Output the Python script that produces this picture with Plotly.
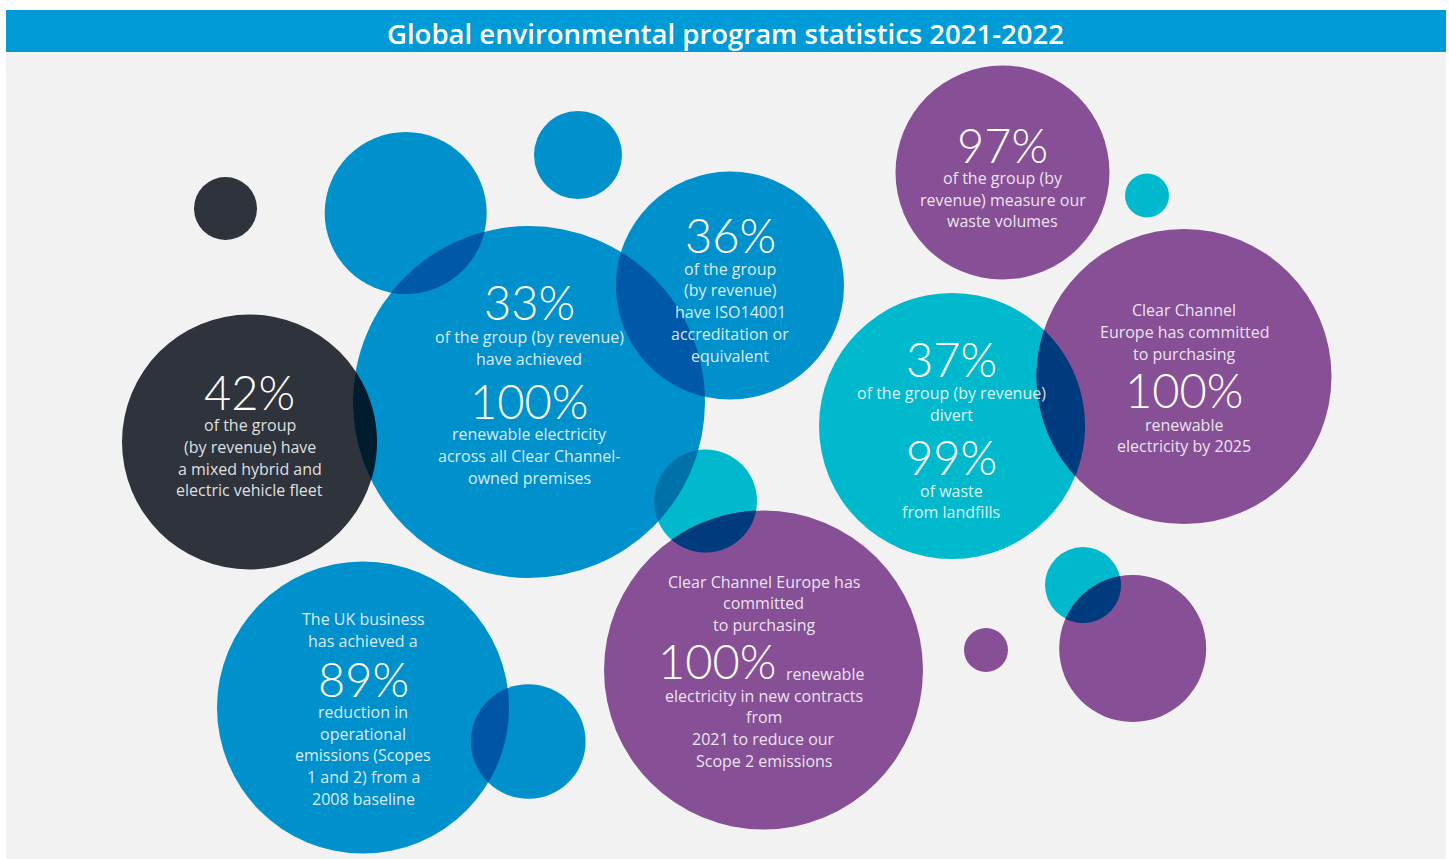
import math
import plotly.graph_objects as go

# ---------------- DATA ----------------
title_text = "Global environmental program statistics 2021-2022"

# text blocks (one entry per line, big=True for headline figures)
block_42 = [("42%", True), ("of the group", False), ("(by revenue) have", False),
            ("a mixed hybrid and", False), ("electric vehicle fleet", False)]
block_33 = [("33%", True), ("of the group (by revenue)", False), ("have achieved", False),
            ("100%", True), ("renewable electricity", False),
            ("across all Clear Channel-", False), ("owned premises", False)]
block_36 = [("36%", True), ("of the group", False), ("(by revenue)", False),
            ("have ISO14001", False), ("accreditation or", False), ("equivalent", False)]
block_97 = [("97%", True), ("of the group (by", False), ("revenue) measure our", False),
            ("waste volumes", False)]
block_37 = [("37%", True), ("of the group (by revenue)", False), ("divert", False),
            ("99%", True), ("of waste", False), ("from landfills", False)]
block_cce = [("Clear Channel", False), ("Europe has committed", False), ("to purchasing", False),
             ("100%", True), ("renewable", False), ("electricity by 2025", False)]
block_89 = [("The UK business", False), ("has achieved a", False), ("89%", True),
            ("reduction in", False), ("operational", False), ("emissions (Scopes", False),
            ("1 and 2) from a", False), ("2008 baseline", False)]
block_cce2_top = ["Clear Channel Europe has", "committed", "to purchasing"]
block_cce2_value = "100%"
block_cce2_value_tail = "renewable"
block_cce2_bottom = ["electricity in new contracts", "from", "2021 to reduce our",
                     "Scope 2 emissions"]

# ---------------- LAYOUT / STYLE ----------------
W, H = 1449, 859
COL = {"blue": "#0090cb", "dark": "#2f333b", "purple": "#874f96", "teal": "#00b9cc"}

# circles: name -> (cx, cy, r, colour)
circles = {
    "dark_small": (225.5, 208.5, 31.5, "dark"),
    "blue_ul": (405.7, 213, 81, "blue"),
    "blue_small_top": (578, 155, 44, "blue"),
    "dark42": (249.5, 442, 127.5, "dark"),
    "blue33": (529, 402, 176, "blue"),
    "blue36": (730, 285.5, 114, "blue"),
    "teal_mid": (705.5, 501, 51.5, "teal"),
    "purple_bot": (763.5, 670, 159.5, "purple"),
    "teal37": (952, 426, 133, "teal"),
    "purple97": (1002.5, 172.5, 107, "purple"),
    "teal_tiny": (1147, 195.5, 22, "teal"),
    "purple_r": (1184, 376.5, 147.5, "purple"),
    "teal_br": (1083, 585, 38, "teal"),
    "purple_br": (1132.7, 648.5, 73.5, "purple"),
    "purple_tiny": (986, 650, 22, "purple"),
    "blue89": (363, 707.5, 146, "blue"),
    "blue_small_bot": (528.3, 741.5, 57.3, "blue"),
}
overlaps = [
    ("blue_ul", "blue33", "#0058a8"),
    ("dark42", "blue33", "#021c2f"),
    ("blue36", "blue33", "#0058a8"),
    ("teal_mid", "blue33", "#0072aa"),
    ("teal_mid", "purple_bot", "#003b7e"),
    ("teal37", "purple_r", "#003b7d"),
    ("teal_br", "purple_br", "#003b7d"),
    ("blue89", "blue_small_bot", "#0056a6"),
]

BIG_FONT = "Lato"
BODY_FONT = "Open Sans"
BIG = 47
SMALL = 16
TXT = "rgba(255,255,255,0.86)"


def lens_path(c1, c2, n=80):
    x1, y1, r1, _ = c1
    x2, y2, r2, _ = c2
    dx, dy = x2 - x1, y2 - y1
    d = math.hypot(dx, dy)
    a = (d * d + r1 * r1 - r2 * r2) / (2 * d)
    th = math.atan2(dy, dx)
    a1 = math.acos(max(-1, min(1, a / r1)))
    a2 = math.acos(max(-1, min(1, (d - a) / r2)))
    pts = []
    for i in range(n + 1):
        t = th - a1 + 2 * a1 * i / n
        pts.append((x1 + r1 * math.cos(t), y1 + r1 * math.sin(t)))
    for i in range(n + 1):
        t = th + math.pi - a2 + 2 * a2 * i / n
        pts.append((x2 + r2 * math.cos(t), y2 + r2 * math.sin(t)))
    return "M " + " L ".join(f"{px:.2f},{py:.2f}" for px, py in pts) + " Z"


fig = go.Figure()
fig.add_trace(go.Scatter(x=[0, W], y=[0, H], mode="markers",
                         marker=dict(opacity=0), hoverinfo="skip", showlegend=False))

shapes = []
# background panel and title bar
shapes.append(dict(type="rect", xref="x", yref="y", x0=6, x1=1446, y0=52, y1=859,
                   fillcolor="#f2f2f2", line=dict(width=0), layer="below"))
shapes.append(dict(type="rect", xref="x", yref="y", x0=6, x1=1446, y0=10, y1=52,
                   fillcolor="#009ad7", line=dict(width=0)))
for name, (cx, cy, r, c) in circles.items():
    shapes.append(dict(type="circle", xref="x", yref="y", x0=cx - r, x1=cx + r,
                       y0=cy - r, y1=cy + r, fillcolor=COL[c], line=dict(width=0)))
for a, b, col in overlaps:
    shapes.append(dict(type="path", xref="x", yref="y", path=lens_path(circles[a], circles[b]),
                       fillcolor=col, line=dict(width=0)))

annotations = []


def add_text(x, y, text, big=False, xanchor="center"):
    annotations.append(dict(
        x=x, y=y, xref="x", yref="y", text=text, showarrow=False,
        xanchor=xanchor, yanchor="middle",
        font=dict(family=BIG_FONT if big else BODY_FONT, size=BIG if big else SMALL,
                  color="#ffffff" if big else TXT, weight=300 if big else 400)))


def add_block(block, x, ys):
    for (t, big), y in zip(block, ys):
        add_text(x, y, t, big)


add_text(W / 2 + 1, 33, title_text)
annotations[-1]["font"] = dict(family=BODY_FONT, size=27.5, color="#ffffff", weight=600)

add_block(block_42, 249.5, [392, 425, 447, 469, 490])
add_block(block_33, 529, [302, 337, 359, 401, 434, 456, 478])
add_block(block_36, 730, [235, 269, 290, 312, 334, 356])
add_block(block_97, 1002.5, [145, 178, 200, 221])
add_block(block_37, 951, [359, 393, 415, 457, 491, 512])
add_block(block_cce, 1184, [310, 332, 354, 390, 425, 446])
add_block(block_89, 363, [619, 641, 679, 712, 734, 755, 777, 799])
for t, y in zip(block_cce2_top, [582, 603, 625]):
    add_text(763.5, y, t)
add_text(716.5, 661, block_cce2_value, big=True)
add_text(825, 674, block_cce2_value_tail)
for t, y in zip(block_cce2_bottom, [696, 717, 739, 761]):
    add_text(763.5, y, t)

fig.update_layout(
    width=W, height=H, margin=dict(l=0, r=0, t=0, b=0, pad=0),
    paper_bgcolor="#ffffff", plot_bgcolor="#ffffff",
    xaxis=dict(range=[0, W], visible=False, fixedrange=True),
    yaxis=dict(range=[H, 0], visible=False, fixedrange=True),
    shapes=shapes, annotations=annotations, showlegend=False,
)
fig.write_html("out.html")
